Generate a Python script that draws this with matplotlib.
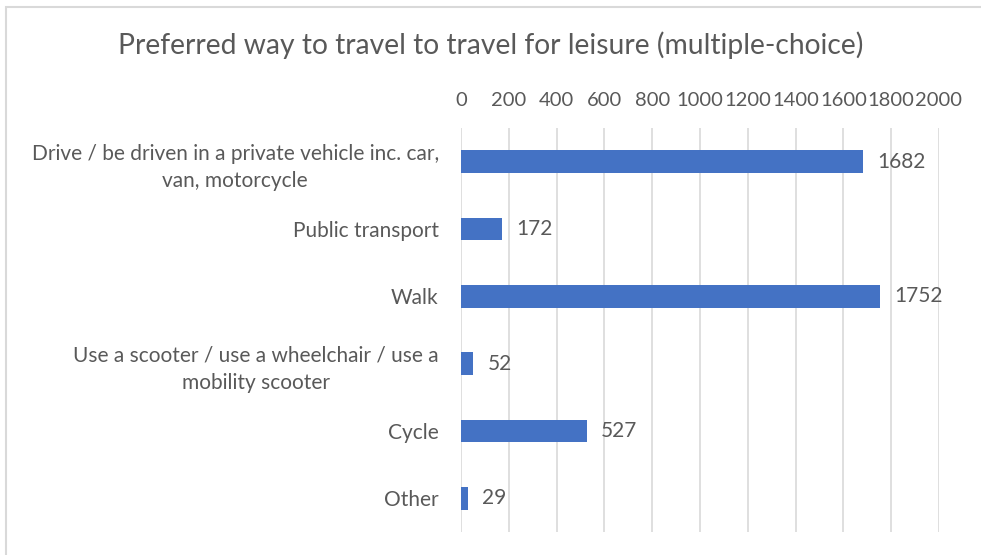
import matplotlib.pyplot as plt
from matplotlib.patches import Rectangle

categories = ["Drive / be driven in a private vehicle inc. car,\nvan, motorcycle",
              "Public transport",
              "Walk",
              "Use a scooter / use a wheelchair / use a\nmobility scooter",
              "Cycle",
              "Other"]
counts = [1682, 172, 1752, 52, 527, 29]
ticks = list(range(0, 2001, 200))

plt.rcParams['font.family'] = ['Lato', 'DejaVu Sans']
grey = '#595959'

fig = plt.figure(figsize=(9.81, 5.55), dpi=100)
ax = fig.add_axes([461/981, 1 - 532/555, (939 - 461)/981, (532 - 128)/555])

# light frame round the chart
fig.patches.append(Rectangle((6/981, -0.05), 1.1, 1 - 7/555 + 0.05, transform=fig.transFigure,
                             fill=False, edgecolor='#d9d9d9', linewidth=1.5))

ypos = list(range(len(counts)))
ax.barh(ypos, counts, height=0.34, color='#4472C4', zorder=3)
for y, v in zip(ypos, counts):
    ax.text(v + 60, y, str(v), va='center', ha='left', fontsize=15, color=grey)

ax.set_xlim(0, 2000)
ax.set_ylim(len(counts) - 0.5, -0.5)
ax.set_xticks(ticks)
ax.set_xticklabels([str(t) for t in ticks], fontsize=14.5, color=grey)
ax.xaxis.tick_top()
ax.set_yticks(ypos)
ax.set_yticklabels(categories, fontsize=15, color=grey, multialignment='center', linespacing=1.45)
ax.tick_params(axis='both', length=0)
ax.tick_params(axis='x', pad=14)
ax.tick_params(axis='y', pad=16)
ax.grid(axis='x', color='#d9d9d9', linewidth=1.2, zorder=0)
for s in ax.spines.values():
    s.set_visible(False)

fig.text(0.5, 1 - 45/555, "Preferred way to travel to travel for leisure (multiple-choice)",
         ha='center', va='center', fontsize=20.3, color=grey)

fig.savefig('out.png', dpi=100)
